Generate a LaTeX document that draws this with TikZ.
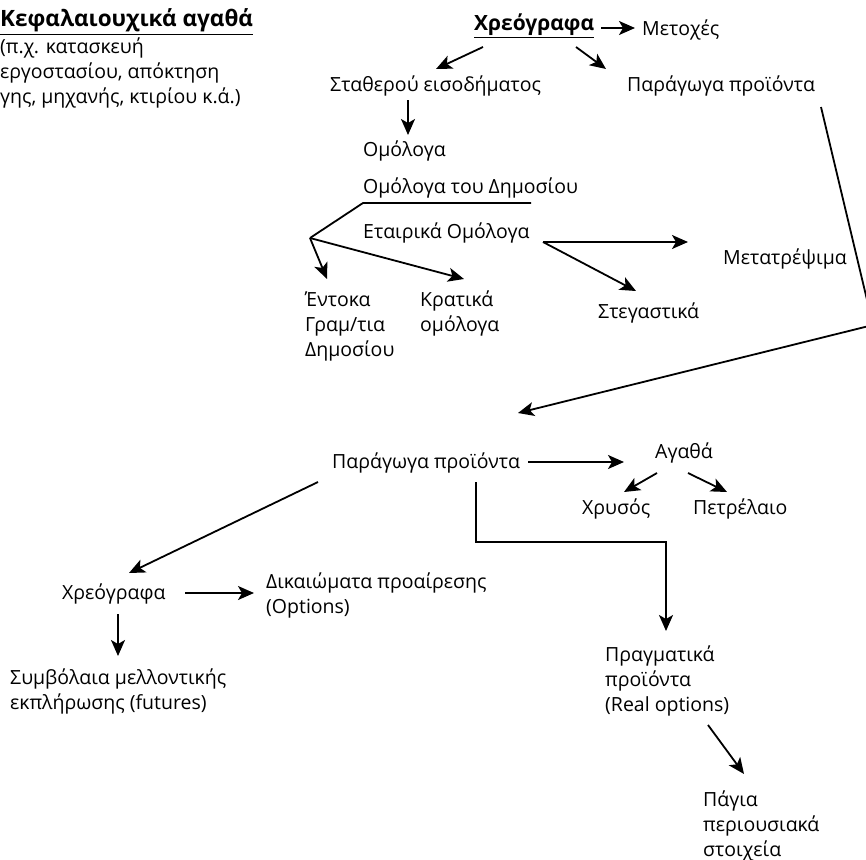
\documentclass[tikz,border=0pt]{standalone}
\usepackage{fontspec}
\setmainfont{Open Sans}
\usetikzlibrary{arrows.meta}
\newcommand{\fsz}{\fontsize{19.5}{25}\selectfont}
\newcommand{\tsz}{\fontsize{21}{25}\selectfont}
\newcommand{\csz}{\fontsize{22.5}{25}\selectfont}
\begin{document}
\begin{tikzpicture}[x=1pt,y=-1pt,
  font=\fsz,
  lbl/.style={inner sep=0pt, anchor=base west, align=left},
  ln/.style={line width=1.8pt},
  arr/.style={ln, -{Stealth[length=16pt,width=14pt,inset=4pt]}}]
\useasboundingbox (0,0) rectangle (866,859);
% texts (base = baseline of the last line)
\node[lbl, font=\csz] (cap) at (0,27) {\textbf{\underline{Κεφαλαιουχικά αγαθά}}};
\node[lbl] (capd) at (0,103) {(π.χ. κατασκευή\\εργοστασίου, απόκτηση\\γης, μηχανής, κτιρίου κ.ά.)};
\node[lbl, font=\tsz] (xr) at (474,31) {\textbf{\underline{Χρεόγραφα}}};
\node[lbl] (met) at (642,36) {Μετοχές};
\node[lbl] (sta) at (330,91) {Σταθερού εισοδήματος};
\node[lbl] (par1) at (627,91) {Παράγωγα προϊόντα};
\node[lbl] (omo) at (363,156) {Ομόλογα};
\node[lbl] (omd) at (363,193) {Ομόλογα του Δημοσίου};
\node[lbl] (eta) at (363,238) {Εταιρικά Ομόλογα};
\node[lbl] (meta) at (723,264) {Μετατρέψιμα};
\node[lbl] (steg) at (598,318) {Στεγαστικά};
\node[lbl] (ent) at (305,356) {Έντοκα\\Γραμ/τια\\Δημοσίου};
\node[lbl] (kra) at (420,331) {Κρατικά\\ομόλογα};
\node[lbl] (par2) at (332,468) {Παράγωγα προϊόντα};
\node[lbl] (aga) at (655,458) {Αγαθά};
\node[lbl] (xrys) at (582,514) {Χρυσός};
\node[lbl] (petr) at (693,514) {Πετρέλαιο};
\node[lbl] (xr2) at (62,599) {Χρεόγραφα};
\node[lbl] (dik) at (266,613) {Δικαιώματα προαίρεσης\\(Options)};
\node[lbl] (sym) at (10,709) {Συμβόλαια μελλοντικής\\εκπλήρωσης (futures)};
\node[lbl] (prag) at (605,711) {Πραγματικά\\προϊόντα\\(Real options)};
\node[lbl] (pag) at (703,856) {Πάγια\\περιουσιακά\\στοιχεία};
% connector points
\coordinate (a1) at (601,28);  \coordinate (a2) at (635,28);
\coordinate (b1) at (483,47);  \coordinate (b2) at (436,69);
\coordinate (c1) at (576,47);  \coordinate (c2) at (606,69);
\coordinate (d1) at (408,100); \coordinate (d2) at (408,135);
\coordinate (u1) at (531,203); \coordinate (u2) at (363,203);
\coordinate (j) at (310,238);
\coordinate (e1) at (327,279); \coordinate (k1) at (464,279);
\coordinate (f0) at (543,242); \coordinate (f1) at (688,242);
\coordinate (f2) at (636,291);
\coordinate (g0) at (821,107); \coordinate (g1) at (873,325);
\coordinate (g2) at (518,413);
\coordinate (h0) at (528,462); \coordinate (h1) at (624,462);
\coordinate (i0) at (657,473); \coordinate (i1) at (624,492);
\coordinate (i2) at (688,473); \coordinate (i3) at (727,492);
\coordinate (v0) at (476,482); \coordinate (v1) at (476,542);
\coordinate (v2) at (666,542); \coordinate (v3) at (666,631);
\coordinate (w0) at (318,482); \coordinate (w1) at (129,573);
\coordinate (x0) at (185,593); \coordinate (x1) at (254,593);
\coordinate (y0) at (118,614); \coordinate (y1) at (118,656);
\coordinate (z0) at (708,725); \coordinate (z1) at (744,774);
% connectors
\draw[arr] (a1) -- (a2);
\draw[arr] (b1) -- (b2);
\draw[arr] (c1) -- (c2);
\draw[arr] (d1) -- (d2);
\draw[ln] (u1) -- (u2) -- (j);
\draw[arr] (j) -- (e1);
\draw[arr] (j) -- (k1);
\draw[arr] (f0) -- (f1);
\draw[arr] (f0) -- (f2);
\draw[arr] (g0) -- (g1) -- (g2);
\draw[arr] (h0) -- (h1);
\draw[arr] (i0) -- (i1);
\draw[arr] (i2) -- (i3);
\draw[arr] (v0) -- (v1) -- (v2) -- (v3);
\draw[arr] (w0) -- (w1);
\draw[arr] (x0) -- (x1);
\draw[arr] (y0) -- (y1);
\draw[arr] (z0) -- (z1);
\end{tikzpicture}
\end{document}
